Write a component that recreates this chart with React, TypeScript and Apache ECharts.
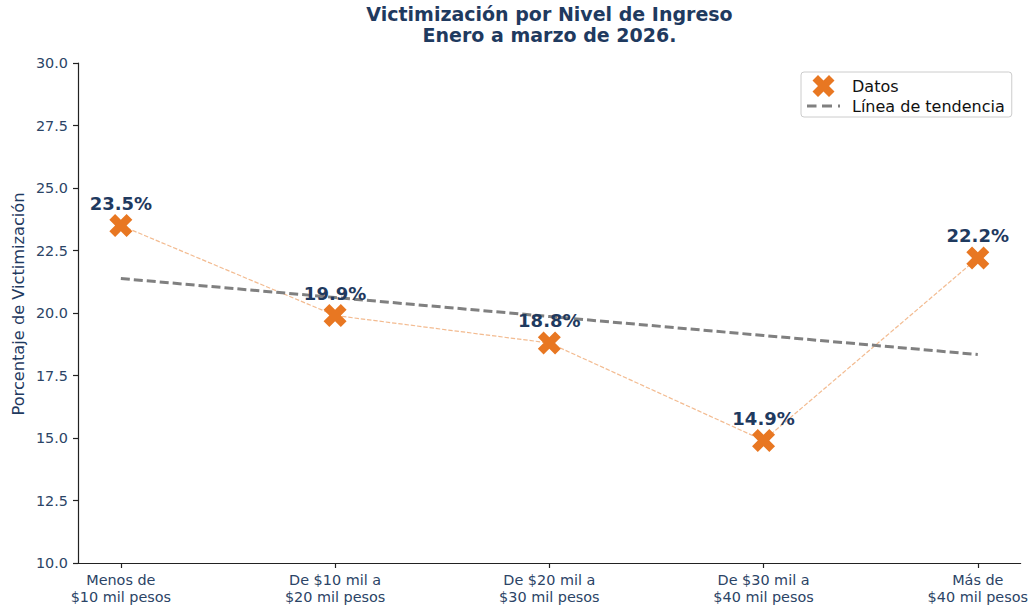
import React, { useEffect, useRef } from "react";
import * as echarts from "echarts";

const categories = [
  "Menos de\n$10 mil pesos",
  "De $10 mil a\n$20 mil pesos",
  "De $20 mil a\n$30 mil pesos",
  "De $30 mil a\n$40 mil pesos",
  "Más de\n$40 mil pesos",
];
const victimization = [23.5, 19.9, 18.8, 14.9, 22.2];
const trend = [21.38, 20.62, 19.86, 19.1, 18.34];
const yTicks = [10, 12.5, 15, 17.5, 20, 22.5, 25, 27.5, 30];

const NAVY = "#1f3a5f";
const TICK = "#2b4466";
const ORANGE = "#E87722";
const X_PATH =
  "path://M2.5 0 L5 2.5 L7.5 0 L10 2.5 L7.5 5 L10 7.5 L7.5 10 L5 7.5 L2.5 10 L0 7.5 L2.5 5 L0 2.5 Z";
const DASH_ICON = "path://M0 0H9.5V3H0Z M15 0H25V3H15Z M31 0H33V3H31Z";
const FONT = "DejaVu Sans";

export default function App() {
  const ref = useRef<HTMLDivElement>(null);
  useEffect(() => {
    if (!ref.current) return;
    const chart = echarts.init(ref.current, null, { renderer: "svg" });
    const idx = categories.map((_, i) => i);
    chart.setOption({
      animation: false,
      textStyle: { fontFamily: FONT },
      grid: { left: 78, right: 10, top: 63, bottom: 46, containLabel: false },
      graphic: [
        {
          type: "text",
          x: 549.5,
          y: 3,
          style: {
            text: "Victimización por Nivel de Ingreso\nEnero a marzo de 2026.",
            textAlign: "center",
            fontFamily: FONT,
            fontSize: 19,
            fontWeight: "bold",
            lineHeight: 21,
            fill: NAVY,
          },
        },
        {
          type: "text",
          x: 18.5,
          y: 304,
          rotation: Math.PI / 2,
          style: {
            text: "Porcentaje de Victimización",
            textAlign: "center",
            textVerticalAlign: "middle",
            fontFamily: FONT,
            fontSize: 16.2,
            fill: NAVY,
          },
        },
      ],
      legend: {
        orient: "vertical",
        left: 801,
        top: 72,
        padding: [3, 7, 3, 6],
        itemWidth: 33,
        itemHeight: 22,
        itemGap: 1,
        borderColor: "#cccccc",
        borderWidth: 1,
        borderRadius: 3,
        backgroundColor: "rgba(255,255,255,0.8)",
        textStyle: { fontSize: 16, color: "#111", fontFamily: FONT, padding: [0, 0, 0, 7] },
        data: [
          { name: "Datos" },
          { name: "Línea de tendencia", icon: DASH_ICON },
        ],
      },
      xAxis: {
        type: "value",
        min: -0.2,
        max: 4.2,
        splitLine: { show: false },
        axisLine: { show: true, onZero: false, lineStyle: { color: "#222", width: 1.2 } },
        axisTick: { show: true, customValues: idx, length: 5, lineStyle: { color: "#222", width: 1.2 } },
        axisLabel: {
          customValues: idx,
          formatter: (v: number) => categories[Math.round(v)] ?? "",
          color: TICK,
          fontSize: 14.4,
          lineHeight: 17,
          margin: 8,
          fontFamily: FONT,
        },
      },
      yAxis: {
        type: "value",
        min: 10,
        max: 30,
        interval: 2.5,
        splitLine: { show: false },
        axisLine: { show: true, onZero: false, lineStyle: { color: "#222", width: 1.2 } },
        axisTick: { show: true, length: 5, lineStyle: { color: "#222", width: 1.2 } },
        axisLabel: {
          customValues: yTicks,
          formatter: (v: number) => v.toFixed(1),
          color: TICK,
          fontSize: 14.4,
          margin: 10,
          fontFamily: FONT,
        },
      },
      series: [
        {
          name: "conexion",
          type: "line",
          data: victimization.map((v, i) => [i, v]),
          symbol: "none",
          lineStyle: { color: ORANGE, opacity: 0.5, width: 1.2, type: [4.4, 1.9] },
          z: 1,
        },
        {
          name: "Línea de tendencia",
          type: "line",
          data: trend.map((v, i) => [i, v]),
          symbol: "none",
          itemStyle: { color: "#808080" },
          lineStyle: { color: "#808080", width: 3, type: [9, 4] },
          z: 2,
        },
        {
          name: "Datos",
          type: "scatter",
          data: victimization.map((v, i) => [i, v]),
          symbol: X_PATH,
          symbolSize: 23,
          itemStyle: { color: ORANGE, opacity: 1 },
          label: {
            show: true,
            position: "top",
            distance: 2,
            formatter: (p: any) => `${p.value[1].toFixed(1)}%`,
            color: NAVY,
            fontSize: 18,
            fontWeight: "bold",
            fontFamily: FONT,
          },
          z: 3,
        },
      ],
    });
    return () => chart.dispose();
  }, []);
  return (
    <div
      ref={ref}
      style={{ position: "absolute", left: 0, top: 0, width: 1031, height: 609 }}
    />
  );
}
